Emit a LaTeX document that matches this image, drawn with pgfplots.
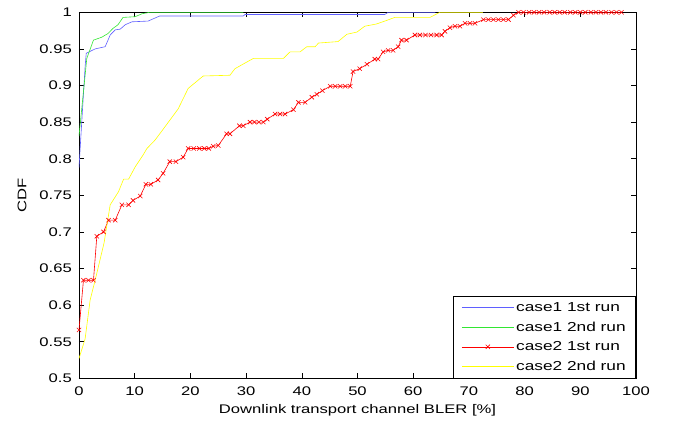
\documentclass[border=0pt]{standalone}
\usepackage{pgfplots}
\pgfplotsset{compat=1.18}
\usepackage{fontspec}
\setmainfont[FakeStretch=1.33]{Liberation Sans}
\definecolor{mblue}{RGB}{95,95,255}
\definecolor{mgreen}{RGB}{50,230,50}
\definecolor{mred}{RGB}{255,0,0}
\definecolor{myellow}{RGB}{255,255,0}
\begin{document}
\begin{tikzpicture}
\begin{axis}[
  scale only axis,
  width=557bp, height=366bp,
  xmin=0, xmax=100, ymin=0.5, ymax=1,
  xtick={0,10,...,100},
  ytick={0.5,0.55,0.6,0.65,0.7,0.75,0.8,0.85,0.9,0.95,1},
  yticklabels={0.5,0.55,0.6,0.65,0.7,0.75,0.8,0.85,0.9,0.95,1},
  tick align=inside, tick pos=both,
  major tick length=5bp,
  axis line style={black, line width=0.8bp},
  every tick/.style={black, line width=0.6bp},
  font=\fontsize{12.5bp}{15bp}\selectfont,
  /pgf/number format/assume math mode=true,
  xticklabel style={anchor=base, inner sep=0pt, yshift=-17bp},
  yticklabel style={anchor=east, inner sep=0pt, xshift=-7bp},
  xlabel={Downlink transport channel BLER [\%]},
  ylabel={CDF},
  xlabel style={at={(axis description cs:0.5,0)}, anchor=base, inner sep=0pt, yshift=-35bp},
  ylabel style={at={(axis description cs:0,0.5)}, anchor=center, inner sep=0pt, yshift=57bp},
  legend cell align=left,
  legend style={at={(axis description cs:1,0)}, anchor=south east, draw=black, line width=0.6bp, fill=white,
    font=\fontsize{13bp}{15bp}\selectfont, inner xsep=8bp, inner ysep=4bp, row sep=5bp,
    /tikz/every even column/.append style={column sep=0bp}},
  legend image code/.code={\draw[mark repeat=2,mark phase=2,#1] plot coordinates {(0bp,0bp)(26bp,0bp)(52bp,0bp)};},
]
\addplot[mblue, line width=0.6bp] coordinates {
(0,0.788)(1.1,0.926)(1.3,0.944)(2.9,0.950)(4.7,0.953)(5.6,0.969)(6.5,0.976)(7.4,0.977)(8.3,0.983)(9.5,0.987)(12.4,0.988)(14.5,0.995)(29.5,0.995)(29.8,0.997)(54.9,0.997)(55.5,1)(64,1)};
\addlegendentry{case1 1st run}
\addplot[mgreen, line width=0.6bp] coordinates {
(0,0.831)(1.4,0.937)(2.6,0.962)(4.1,0.966)(5.2,0.971)(6.1,0.978)(7.0,0.983)(7.9,0.993)(10.1,0.994)(11.3,0.998)(12.7,1)(29.5,1)};
\addlegendentry{case1 2nd run}
\addplot[mred, line width=0.6bp, mark=x, mark size=3bp, mark options={line width=0.6bp}] coordinates {
(0,0.566)(0.8,0.634)(1.7,0.634)(2.6,0.634)(3.2,0.694)(4.4,0.700)(5.3,0.716)(6.5,0.716)(7.7,0.737)(8.9,0.737)(9.7,0.743)(11.0,0.749)(12.0,0.765)(12.9,0.765)(14.2,0.771)(15.1,0.780)(16.3,0.796)(17.4,0.796)(18.7,0.802)(19.6,0.814)(20.6,0.814)(21.6,0.814)(22.5,0.814)(23.3,0.814)(24.1,0.817)(25.0,0.818)(26.5,0.834)(27.1,0.834)(28.8,0.845)(29.5,0.845)(30.7,0.850)(31.5,0.850)(32.3,0.850)(33.1,0.850)(33.8,0.854)(35.2,0.861)(36.1,0.861)(37.0,0.861)(38.5,0.867)(39.4,0.877)(40.6,0.877)(41.8,0.884)(42.7,0.888)(43.7,0.893)(45.1,0.899)(46.0,0.899)(46.9,0.899)(47.8,0.899)(48.7,0.899)(49.2,0.919)(50.4,0.923)(51.7,0.929)(53.1,0.936)(53.7,0.936)(54.6,0.946)(55.5,0.948)(56.4,0.948)(57.3,0.953)(57.9,0.962)(58.8,0.962)(60.3,0.969)(61.2,0.969)(62.2,0.969)(63.2,0.969)(64.2,0.969)(65.1,0.969)(65.7,0.974)(66.6,0.979)(67.5,0.981)(68.4,0.981)(69.3,0.985)(70.2,0.985)(71.1,0.985)(72.6,0.990)(73.5,0.990)(74.4,0.990)(75.3,0.990)(76.2,0.990)(77.1,0.990)(78.0,0.996)(78.9,1)(79.8,1)(80.8,1)(81.7,1)(82.6,1)(83.5,1)(84.5,1)(85.4,1)(86.3,1)(87.2,1)(88.2,1)(89.1,1)(90.0,1)(90.9,1)(91.9,1)(92.8,1)(93.7,1)(94.6,1)(95.6,1)(96.5,1)(97.4,1)};
\addlegendentry{case2 1st run}
\addplot[myellow, line width=0.6bp] coordinates {
(0,0.527)(1.1,0.554)(2.0,0.607)(2.9,0.634)(4.5,0.685)(5.6,0.737)(7.1,0.755)(8.0,0.772)(8.9,0.772)(10.1,0.789)(11.5,0.805)(12.2,0.814)(13.6,0.825)(14.5,0.834)(17.8,0.868)(19.6,0.896)(22.3,0.913)(27.1,0.914)(28.0,0.923)(31.3,0.937)(36.7,0.937)(37.9,0.946)(39.7,0.946)(40.9,0.953)(42.4,0.953)(43.0,0.958)(46.5,0.960)(48.1,0.970)(49.9,0.973)(51.3,0.981)(53.4,0.984)(54.9,0.988)(56.7,0.993)(63.0,0.993)(64.8,1)(72.5,1)};
\addlegendentry{case2 2nd run}
\end{axis}
\pgfresetboundingbox
\path ([shift={(-79bp,-44.7bp)}]current axis.south west) rectangle ([shift={(37bp,12.3bp)}]current axis.north east);
\end{tikzpicture}
\end{document}
